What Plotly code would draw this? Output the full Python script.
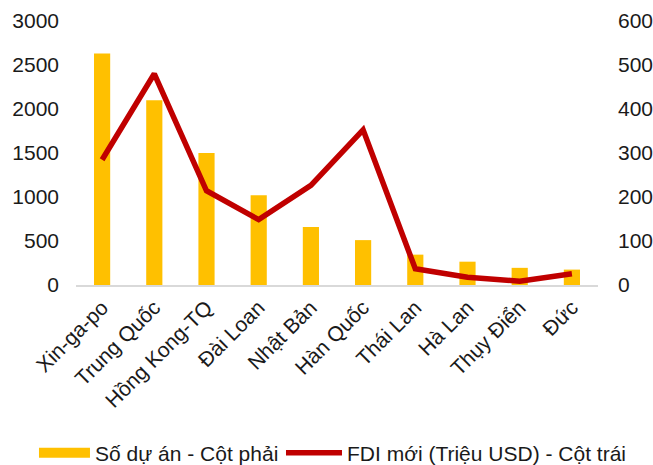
import plotly.graph_objects as go

# Countries / territories
categories = ["Xin-ga-po", "Trung Quốc", "Hồng Kong-TQ", "Đài Loan", "Nhật Bản",
              "Hàn Quốc", "Thái Lan", "Hà Lan", "Thụy Điển", "Đức"]

# Number of projects (right axis)
so_du_an = [526, 420, 300, 204, 132, 102, 69, 53, 39, 35]

# New FDI, million USD (left axis)
fdi_moi = [1423, 2400, 1071, 743, 1132, 1763, 184, 88, 43, 127]

left_ticks = [0, 500, 1000, 1500, 2000, 2500, 3000]
right_ticks = [0, 100, 200, 300, 400, 500, 600]

BAR_COLOR = "#FFC000"
LINE_COLOR = "#C00000"
FONT = "Liberation Sans, Arial, sans-serif"

fig = go.Figure()

# Bars live on the right-hand axis (y), the line on the overlaying left axis (y2)
# so that the line is painted above the bars.
fig.add_trace(go.Bar(
    x=categories, y=so_du_an, yaxis="y",
    marker=dict(color=BAR_COLOR, line=dict(width=0)),
    width=0.31, showlegend=False,
))
fig.add_trace(go.Scatter(
    x=categories, y=fdi_moi, yaxis="y2", mode="lines",
    line=dict(color=LINE_COLOR, width=5.5),
    showlegend=False,
))

# Legend entries, one legend box each so they can be placed independently
fig.add_trace(go.Scatter(
    x=[None], y=[None], yaxis="y", mode="lines", name="Số dự án - Cột phải",
    line=dict(color=BAR_COLOR, width=10), legend="legend",
))
fig.add_trace(go.Scatter(
    x=[None], y=[None], yaxis="y2", mode="lines", name="FDI mới (Triệu USD) - Cột trái",
    line=dict(color=LINE_COLOR, width=5.5), legend="legend2",
))

legend_common = dict(
    orientation="h", xref="paper", yref="paper", xanchor="left",
    y=-0.637, yanchor="middle", font=dict(size=21),
    bgcolor="rgba(0,0,0,0)",
)

fig.update_layout(
    width=653, height=465,
    margin=dict(l=76, r=55, t=21, b=180, autoexpand=False),
    paper_bgcolor="white", plot_bgcolor="white",
    font=dict(family=FONT, size=21, color="#1a1a1a"),
    xaxis=dict(
        type="category", tickangle=-45, showgrid=False,
        showline=True, linecolor="#D9D9D9", linewidth=2,
        ticks="", tickfont=dict(size=21), automargin=False,
    ),
    yaxis=dict(
        range=[0, 600], tickvals=right_ticks, side="right",
        showgrid=False, zeroline=False, showline=False, ticks="",
        ticklabelstandoff=19, automargin=False,
    ),
    yaxis2=dict(
        range=[0, 3000], tickvals=left_ticks, overlaying="y", side="left",
        showgrid=False, zeroline=False, showline=False, ticks="",
        ticklabelstandoff=16, automargin=False,
    ),
    legend=dict(legend_common, x=-0.0805, itemwidth=51),
    legend2=dict(legend_common, x=0.3927, itemwidth=56),
)

fig.write_html("out.html")
